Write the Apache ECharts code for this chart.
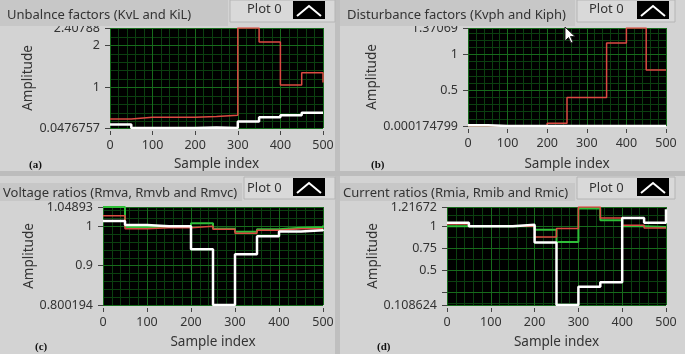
<!DOCTYPE html>
<html lang="en">
<head>
<meta charset="UTF-8">
<title>LabVIEW graphs</title>
<style>
  html, body { margin: 0; padding: 0; background: #d3d3d3; }
  #main { width: 685px; height: 354px; }
</style>
</head>
<body>
<div id="main"></div>
<script src="https://cdn.jsdelivr.net/npm/echarts@6/dist/echarts.min.js"></script>
<script>
// sample index where each step starts (last point closes the trace)
var sampleIdx = [0, 50, 100, 150, 200, 250, 300, 350, 400, 450, 500];

// (a) unbalance factors
var kvL = [0.26, 0.30, 0.30, 0.30, 0.32, 0.35, 2.40788, 2.08, 1.06, 1.35, 1.12];
var kiL = [0.13, 0.0477, 0.0477, 0.0477, 0.06, 0.0477, 0.20, 0.30, 0.35, 0.41, 0.41];

// (b) disturbance factors
var kvph = [0.0002, 0.0002, 0.0002, 0.0002, 0.037, 0.40, 0.40, 1.16, 1.37069, 0.785, 0.785];
var kiph = [0.012, 0.0002, 0.0002, 0.0002, 0.0002, 0.0002, 0.0002, 0.0002, 0.0002, 0.0002, 0.0002];

// (c) voltage ratios
var rmva = [1.04893, 0.998, 0.998, 0.998, 1.008, 0.994, 0.986, 0.9925, 0.996, 0.998, 1.002];
var rmvb = [1.027, 0.994, 0.996, 0.996, 1.0, 0.9925, 0.982, 0.990, 0.994, 0.994, 0.994];
var rmvc = [1.0135, 1.0034, 1.0, 1.0, 0.942, 0.800194, 0.929, 0.975, 0.987, 0.990, 0.992];

// (d) current ratios
var rmia = [1.0, 1.0, 1.0, 1.0, 0.96, 0.822, 1.2, 1.067, 1.0, 0.99, 0.99];
var rmib = [1.025, 1.0, 1.0, 1.0, 0.878, 0.973, 1.21672, 1.093, 1.01, 0.98, 0.98];
var rmic = [1.04, 1.0, 1.0, 1.015, 0.815, 0.108624, 0.315, 0.365, 1.093, 1.04, 1.19];

// autoscaled y ranges and their tick / label values
var yRangeA = [0.0476757, 2.40788];
var yLabelsA = [0.0476757, 1, 2, 2.40788];
var yRangeB = [0.000174799, 1.37069];
var yLabelsB = [0.000174799, 0.5, 1, 1.37069];
var yRangeC = [0.800194, 1.04893];
var yLabelsC = [0.800194, 0.9, 1, 1.04893];
var yRangeD = [0.108624, 1.21672];
var yLabelsD = [0.108624, 0.5, 0.75, 1, 1.21672];
var yTicksD = [0.108624, 0.25, 0.5, 0.75, 1, 1.21672];

var titles = ['Unbalnce factors (KvL and KiL)', 'Disturbance factors (Kvph and Kiph)',
              'Voltage ratios (Rmva, Rmvb and Rmvc)', 'Current ratios (Rmia, Rmib and Rmic)'];
var tags = ['(a)', '(b)', '(c)', '(d)'];

var FONT = '"Noto Sans", "Open Sans", sans-serif';
var MAJOR = '#176b1c';
var MINOR = '#0b3f10';
var RED = '#dc4a42', WHITE = '#ffffff', GREEN = '#2fbf38';

function pairs(vals) {
  return sampleIdx.map(function (x, i) { return [x, vals[i]]; });
}
function gridSteps(lo, hi, step) {
  var out = [];
  for (var k = Math.ceil(lo / step); k * step < hi; k++) {
    var v = Math.round(k * step * 1e6) / 1e6;
    if (v > lo) out.push(v);
  }
  return out;
}

var panels = [
  { grid: { left: 110, top: 28, width: 213, height: 100 }, range: yRangeA, labels: yLabelsA, ticks: yLabelsA,
    minor: 0.2, yGap: 70, xGap: 26, lines: [[kvL, RED, 1.5], [kiL, WHITE, 2.5]] },
  { grid: { left: 468, top: 28, width: 198, height: 98 }, range: yRangeB, labels: yLabelsB, ticks: yLabelsB,
    minor: 0.1, yGap: 83, xGap: 28, lines: [[kvph, RED, 1.5], [kiph, WHITE, 2.5]] },
  { grid: { left: 103, top: 207, width: 220, height: 98 }, range: yRangeC, labels: yLabelsC, ticks: yLabelsC,
    minor: 0.02, yGap: 60, xGap: 27, lines: [[rmva, GREEN, 2], [rmvb, RED, 1.5], [rmvc, WHITE, 2.5]] },
  { grid: { left: 447, top: 207, width: 219, height: 98 }, range: yRangeD, labels: yLabelsD, ticks: yTicksD,
    minor: 0.125, yGap: 60, xGap: 27, lines: [[rmia, GREEN, 2], [rmib, RED, 1.5], [rmic, WHITE, 2.5]] }
];

var grids = [], xAxes = [], yAxes = [], series = [];
panels.forEach(function (p, gi) {
  grids.push(Object.assign({ show: true, backgroundColor: '#000', borderWidth: 0 }, p.grid));
  xAxes.push({
    type: 'value', gridIndex: gi, min: 0, max: 500, interval: 100, offset: 3,
    axisLine: { show: false },
    axisTick: { show: true, length: 4, lineStyle: { color: '#444' } },
    axisLabel: { color: '#333', fontSize: 12.5, margin: 8, fontFamily: FONT },
    splitLine: { show: true, lineStyle: { color: MAJOR, width: 1 } },
    minorTick: { show: false, splitNumber: 5 },
    minorSplitLine: { show: true, lineStyle: { color: MINOR, width: 1 } },
    name: 'Sample index', nameLocation: 'middle', nameGap: p.xGap,
    nameTextStyle: { color: '#333', fontSize: 13.5, fontFamily: FONT }
  });
  // main y axis: labels, ticks, major grid
  yAxes.push({
    type: 'value', gridIndex: gi, min: p.range[0], max: p.range[1], offset: 3, position: 'left', z: 1,
    axisLine: { show: false },
    axisTick: { show: true, length: 5, customValues: p.ticks, lineStyle: { color: '#444' } },
    axisLabel: { customValues: p.labels, color: '#333', fontSize: 12.5, margin: 7, fontFamily: FONT,
                 showMinLabel: true, showMaxLabel: true,
                 formatter: function (v) { return String(v); } },
    splitLine: { show: true, lineStyle: { color: MAJOR, width: 1 } },
    name: 'Amplitude', nameLocation: 'middle', nameRotate: 90, nameGap: p.yGap,
    nameTextStyle: { color: '#333', fontSize: 13.5, fontFamily: FONT }
  });
  // helper y axis for the fine grid
  yAxes.push({
    type: 'value', gridIndex: gi, min: p.range[0], max: p.range[1], position: 'left', z: 0,
    axisLine: { show: false },
    axisTick: { show: false, customValues: gridSteps(p.range[0], p.range[1], p.minor) },
    axisLabel: { show: false },
    splitLine: { show: true, lineStyle: { color: MINOR, width: 1 } }
  });
  p.lines.forEach(function (l) {
    series.push({
      type: 'line', xAxisIndex: gi, yAxisIndex: gi * 2, data: pairs(l[0]), step: 'end',
      showSymbol: false, symbol: 'none', lineStyle: { color: l[1], width: l[2] },
      itemStyle: { color: l[1] }, z: 3, animation: false
    });
  });
});

// LabVIEW front-panel decorations
var origins = [[0, 0], [340, 0], [0, 175], [340, 175]];
var graphic = [];
graphic.push({ type: 'rect', z: 90, shape: { x: 335, y: 0, width: 5, height: 354 }, style: { fill: '#bfbfbf' } });
graphic.push({ type: 'rect', z: 90, shape: { x: 0, y: 171, width: 685, height: 5 }, style: { fill: '#bcbcbc' } });
origins.forEach(function (o, i) {
  var top = i < 2;
  var barY = top ? 0 : 8, barH = top ? 26 : 18;
  var titleW = i % 2 === 0 ? (top ? 228 : 242) : 235;
  graphic.push({ type: 'rect', z: 100, shape: { x: o[0], y: o[1] + barY, width: titleW, height: barH },
    style: { fill: '#c7c7c7' } });
  graphic.push({ type: 'rect', z: 100, shape: { x: o[0] + titleW + 2, y: o[1] + (top ? 0 : 2), width: 333 - titleW, height: 22 },
    style: { fill: '#d9d9d9', stroke: '#b5b5b5', lineWidth: 1 } });
  graphic.push({ type: 'text', z: 101, x: o[0] + (i % 2 ? 249 : 247), y: o[1] + (top ? 9 : 13),
    style: { text: 'Plot 0', fill: '#333', font: '13px ' + FONT, verticalAlign: 'middle' } });
  var ix = o[0] + (i % 2 ? 297 : 293), iy = o[1] + (top ? 1 : 3);
  graphic.push({ type: 'rect', z: 101, shape: { x: ix, y: iy, width: 32, height: 18 }, style: { fill: '#000' } });
  graphic.push({ type: 'polyline', z: 102, shape: { points: [[ix + 4, iy + 15], [ix + 16, iy + 5], [ix + 28, iy + 15]] },
    style: { stroke: '#fff', lineWidth: 2, fill: null } });
  graphic.push({ type: 'text', z: 101, x: o[0] + 3 + (top ? 4 : 0), y: o[1] + (top ? 15 : 18),
    style: { text: titles[i], fill: '#333', font: '13px ' + FONT, verticalAlign: 'middle' } });
  graphic.push({ type: 'text', z: 101, x: o[0] + (i % 2 ? 31 : 29) + (top ? 0 : 6), y: o[1] + (top ? 165 : 172),
    style: { text: tags[i], fill: '#111', font: 'bold 11px "Liberation Serif", serif', verticalAlign: 'middle' } });
});
// mouse pointer in panel (b)
graphic.push({ type: 'polygon', z: 110,
  shape: { points: [[565, 27], [565, 41], [568.5, 37.5], [571, 43], [573, 42], [570.5, 36.5], [575, 36.5]] },
  style: { fill: '#fff', stroke: '#222', lineWidth: 1 } });

var chart = echarts.init(document.getElementById('main'), null, { renderer: 'canvas' });
chart.setOption({
  backgroundColor: '#d3d3d3',
  animation: false,
  grid: grids,
  xAxis: xAxes,
  yAxis: yAxes,
  series: series,
  graphic: graphic
});
</script>
</body>
</html>
